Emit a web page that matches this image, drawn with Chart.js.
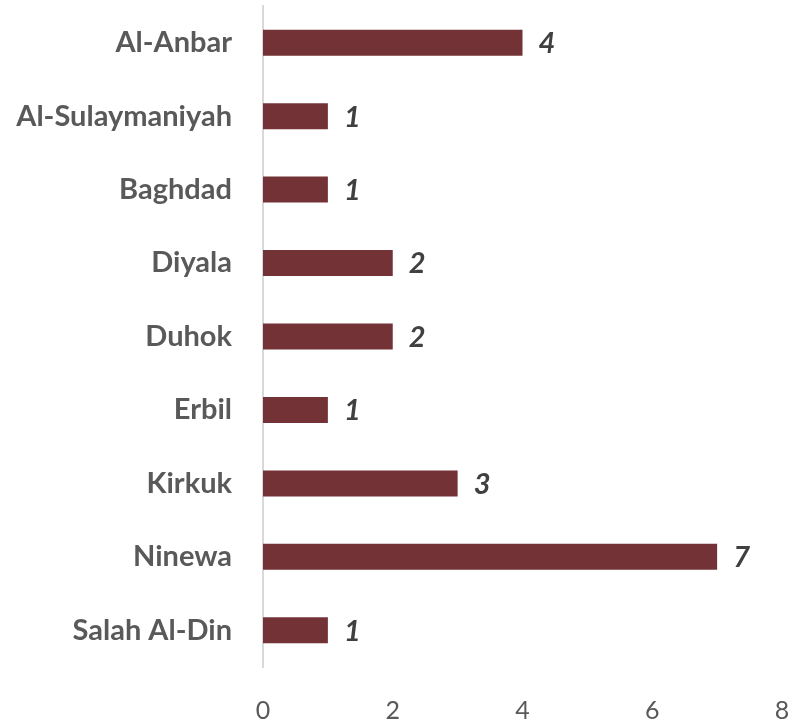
<!DOCTYPE html>
<html>
<head>
<meta charset="utf-8">
<script src="https://cdn.jsdelivr.net/npm/chart.js@4"></script>
<style>
html,body{margin:0;padding:0;background:#fff;}
#wrap{width:792px;height:723px;}
</style>
</head>
<body>
<div id="wrap"><canvas id="c" width="792" height="723"></canvas></div>
<script>
const categories = ["Al-Anbar","Al-Sulaymaniyah","Baghdad","Diyala","Duhok","Erbil","Kirkuk","Ninewa","Salah Al-Din"];
const values = [4,1,1,2,2,1,3,7,1];
const xTicks = [0,2,4,6,8];

const valueLabels = {
  id: 'valueLabels',
  afterDatasetsDraw(chart) {
    const ctx = chart.ctx;
    const meta = chart.getDatasetMeta(0);
    ctx.save();
    ctx.font = 'italic bold 29px Lato';
    ctx.fillStyle = '#404040';
    ctx.textAlign = 'left';
    ctx.textBaseline = 'middle';
    meta.data.forEach((bar, i) => {
      ctx.fillText(String(values[i]), bar.x + 16, bar.y + 1);
    });
    ctx.restore();
  }
};

new Chart(document.getElementById('c'), {
  type: 'bar',
  data: {
    labels: categories,
    datasets: [{
      data: values,
      backgroundColor: '#733336',
      borderWidth: 0,
      categoryPercentage: 1,
      barPercentage: 0.354
    }]
  },
  options: {
    indexAxis: 'y',
    responsive: false,
    animation: false,
    devicePixelRatio: 1,
    layout: { padding: { top: 6, right: 10, bottom: 0, left: 0 } },
    plugins: { legend: { display: false }, tooltip: { enabled: false } },
    scales: {
      x: {
        min: 0, max: 8,
        afterBuildTicks(scale) { scale.ticks = xTicks.map(v => ({ value: v })); },
        afterFit(scale) { scale.height = 56; scale.paddingLeft = 0; scale.paddingRight = 0; },
        grid: { display: false, drawTicks: false },
        border: { display: false },
        ticks: { color: '#595959', font: { family: 'Lato', size: 25 }, padding: 29, maxRotation: 0 }
      },
      y: {
        afterFit(scale) { scale.width = 263; scale.paddingTop = 0; scale.paddingBottom = 0; },
        grid: { display: false, drawTicks: false },
        border: { display: true, color: '#d9d9d9', width: 2 },
        ticks: { color: '#595959', font: { family: 'Lato', size: 29, weight: 'bold' }, padding: 31 }
      }
    }
  },
  plugins: [valueLabels]
});
</script>
</body>
</html>
